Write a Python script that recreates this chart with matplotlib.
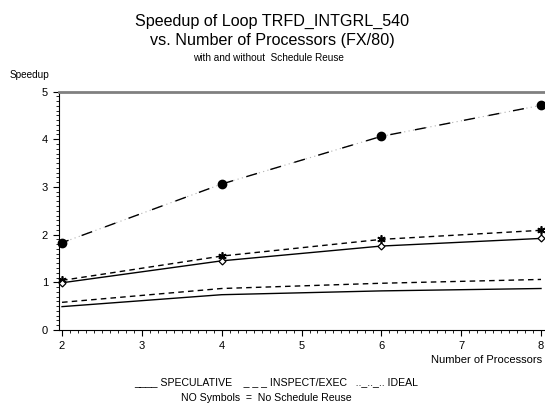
import matplotlib
matplotlib.use("Agg")
import matplotlib.pyplot as plt
from matplotlib.ticker import MultipleLocator

plt.rcParams['font.family'] = ['Liberation Sans', 'DejaVu Sans']

# processors and measured speedups
procs = [2, 4, 6, 8]
ideal = [1.83, 3.06, 4.06, 4.71]
insp_reuse = [1.04, 1.55, 1.90, 2.09]
spec_reuse = [0.99, 1.45, 1.76, 1.92]
insp_noreuse = [0.58, 0.87, 0.98, 1.06]
spec_noreuse = [0.49, 0.74, 0.82, 0.87]

fig = plt.figure(figsize=(5.45, 4.09), dpi=100)
ax = fig.add_axes([59/545, 79/409, 486/545, 238.5/409])

# ideal: long black dashes with faint grey dots in between
ax.plot(procs, ideal, color='#b0b0b0', lw=0.8, linestyle=(0, (1, 3)))
ax.plot(procs, ideal, color='black', lw=1.0, linestyle=(3, (8, 10)),
        marker='o', ms=6, mfc='black', clip_on=False)
ax.plot(procs, insp_reuse, color='black', lw=1.0, linestyle=(0, (4, 3)),
        marker=(6, 2, 0), ms=6, mew=1.2, clip_on=False)
ax.plot(procs, spec_reuse, color='black', lw=1.0, linestyle='-',
        marker='D', ms=3.5, mfc='white', mew=0.9, clip_on=False)
ax.plot(procs, insp_noreuse, color='black', lw=1.0, linestyle=(0, (4, 3)))
ax.plot(procs, spec_noreuse, color='black', lw=1.0, linestyle='-')

ax.set_xlim(1.962, 8.05)
ax.set_ylim(0, 5)
ax.xaxis.set_major_locator(MultipleLocator(1))
ax.xaxis.set_minor_locator(MultipleLocator(0.1))
ax.yaxis.set_major_locator(MultipleLocator(1))
ax.yaxis.set_minor_locator(MultipleLocator(0.1))
ax.tick_params(which='major', length=4, width=0.8, labelsize=8, direction='out', pad=4)
ax.tick_params(which='minor', length=2, width=0.6, direction='out')
ax.spines['right'].set_visible(False)
ax.spines['top'].set_color('#808080')
ax.spines['top'].set_linewidth(2)
ax.spines['left'].set_linewidth(0.8)
ax.spines['bottom'].set_linewidth(0.8)

fig.text(272/545, 1 - 21/409, 'Speedup of Loop TRFD_INTGRL_540', ha='center', va='center', fontsize=11.6)
fig.text(272/545, 1 - 41/409, 'vs. Number of Processors (FX/80)', ha='center', va='center', fontsize=11.6)
fig.text(268/545, 1 - 58/409, 'with and without  Schedule Reuse', ha='center', va='center', fontsize=7.2)
fig.text(10/545, 1 - 75/409, 'Speedup', ha='left', va='center', fontsize=7.2)
fig.text(542/545, 1 - 360/409, 'Number of Processors', ha='right', va='center', fontsize=8)
fig.text(276/545, 1 - 382/409,
         '____ SPECULATIVE    _ _ _ INSPECT/EXEC   .._.._.. IDEAL',
         ha='center', va='center', fontsize=7.6)
fig.text(266/545, 1 - 398/409, 'NO Symbols  =  No Schedule Reuse',
         ha='center', va='center', fontsize=7.6)

fig.savefig('out.png', dpi=100)
